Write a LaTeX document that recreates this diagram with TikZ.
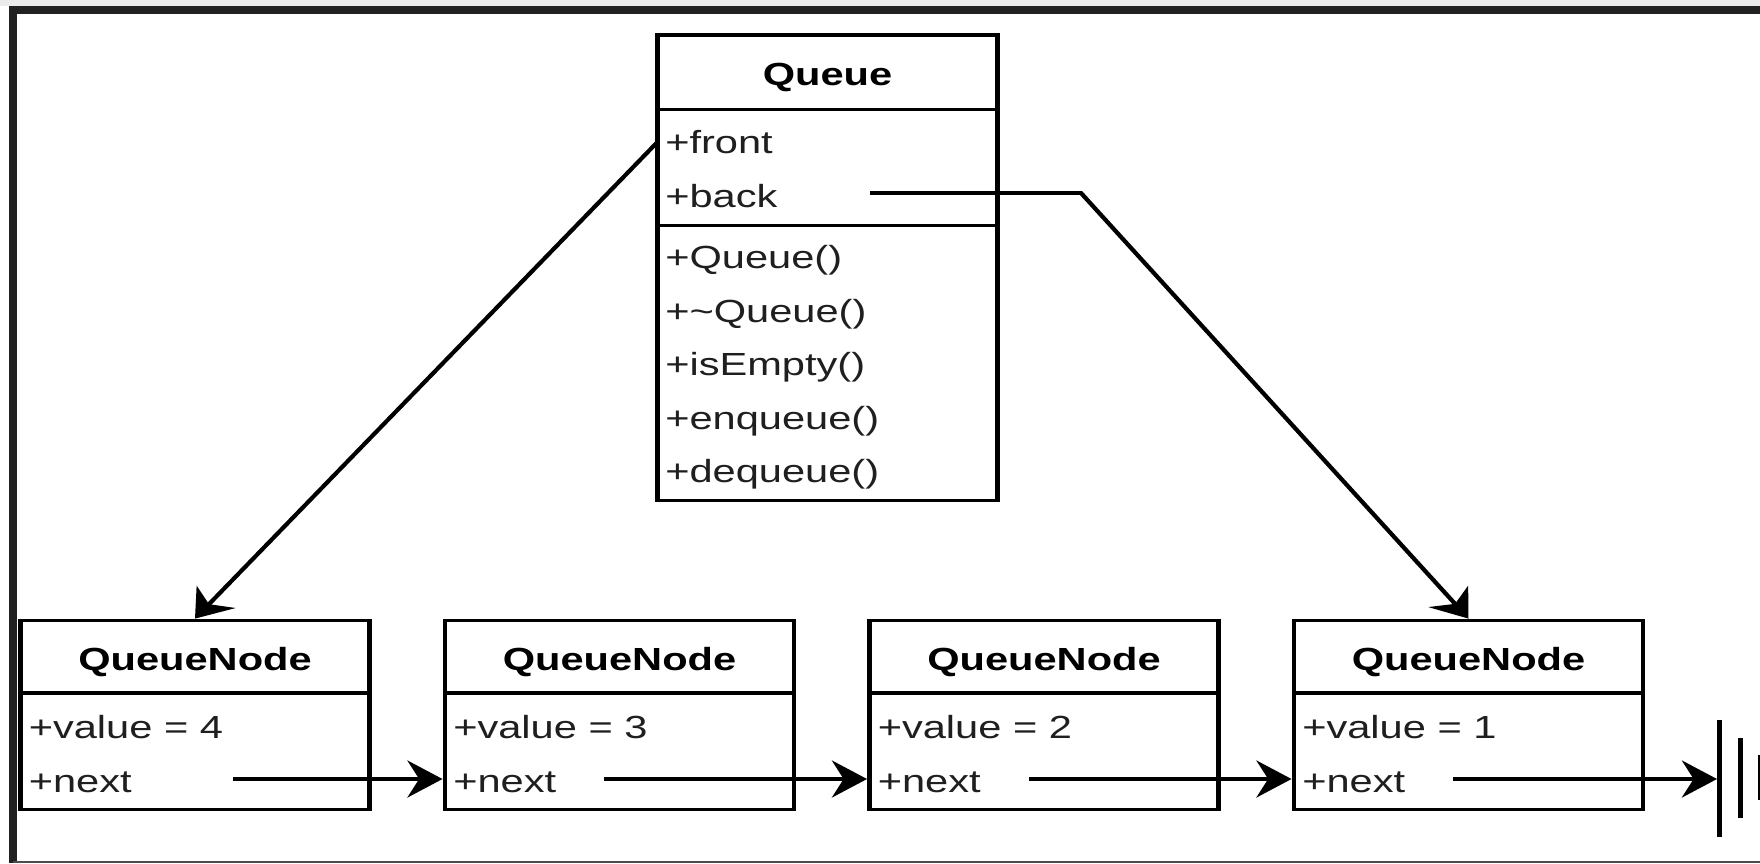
\documentclass[tikz,border=0pt]{standalone}
\usepackage{fontspec}
\setmainfont{Liberation Sans}
\usetikzlibrary{arrows.meta}

\begin{document}
\begin{tikzpicture}[x=1pt,y=-1pt,
  box/.style={draw=black, line width=3.8pt, fill=white, inner sep=0pt, anchor=center},
  qbox/.style={box, minimum width=261.54pt},
  nbox/.style={box, minimum width=268.46pt},
  ttl/.style={font=\fontsize{32}{38}\selectfont\bfseries, anchor=base, inner sep=0pt},
  fld/.style={font=\fontsize{32}{38}\selectfont, anchor=base west, inner sep=0pt, text=black!88},
  ptr/.style={draw=black, line width=3.6pt, -{Stealth[length=27pt,width=37pt,inset=9pt]}},
  bar/.style={draw=black, line width=4pt},
]
% canvas and frame
\useasboundingbox (0,0) rectangle (1760,863);
\fill[white] (0,0) rectangle (1760,863);
\fill[black!8] (0,0) rectangle (1760,5.5);
\draw[black!87, line width=8pt] (13,863) -- (13,10) -- (1760,10);
\draw[black!70, line width=1.5pt] (13,862.2) -- (1760,862.2);

% the diagram itself is set on a canvas widened by 1.3
\begin{scope}[transform canvas={xscale=1.3}, x=0.769231pt]

% Queue class
\node[qbox, minimum height=74.5pt] (qh) at (827.5,72.25) {};
\node[qbox, minimum height=116pt]  (qf) at (827.5,167.5) {};
\node[qbox, minimum height=275pt]  (qm) at (827.5,363) {};
\node[ttl] (qt) at (827.5,85) {Queue};
\node[fld] (qfront) at (665,153) {+front};
\node[fld] (qback)  at (665,207) {+back};
\node[fld] (qm1) at (665,268.5) {+Queue()};
\node[fld] (qm2) at (665,322)   {+\char"007EQueue()};
\node[fld] (qm3) at (665,375.5) {+isEmpty()};
\node[fld] (qm4) at (665,429)   {+enqueue()};
\node[fld] (qm5) at (665,482.5) {+dequeue()};

% QueueNode objects
\foreach \i/\l/\v in {1/20.5/4, 2/445/3, 3/869.5/2, 4/1294/1} {
  \node[nbox, minimum height=72.5pt]  (h\i) at (\l+174.5,656.75) {};
  \node[nbox, minimum height=116.5pt] (b\i) at (\l+174.5,751.25) {};
  \node[ttl] (t\i) at (\l+174.5,670) {QueueNode};
  \node[fld] (v\i) at (\l+8,738) {+value = \v};
  \node[fld] (n\i) at (\l+8,792) {+next};
}

% pointer origins
\coordinate (frontp) at (657.5,142);
\coordinate (backp) at (870,193);
\coordinate (backc) at (1081,193);
\coordinate (s1) at (233,779);
\coordinate (s2) at (604,779);
\coordinate (s3) at (1029,779);
\coordinate (s4) at (1453,779);
\coordinate (gnd) at (1717,779);

% front / back pointers
\draw[ptr] (frontp) -- (h1.north);
\draw[ptr] (backp) -- (backc) -- (h4.north);

% next pointers
\draw[ptr] (s1) -- (s1 -| b2.west);
\draw[ptr] (s2) -- (s2 -| b3.west);
\draw[ptr] (s3) -- (s3 -| b4.west);
\draw[ptr] (s4) -- (gnd);

% null terminator
\draw[bar] (gnd) ++(2.5,-59) -- ++(0,117);
\draw[bar] (gnd) ++(23.5,-41) -- ++(0,80);
\draw[bar] (gnd) ++(44,-24) -- ++(0,45);
\end{scope}
\end{tikzpicture}
\end{document}
